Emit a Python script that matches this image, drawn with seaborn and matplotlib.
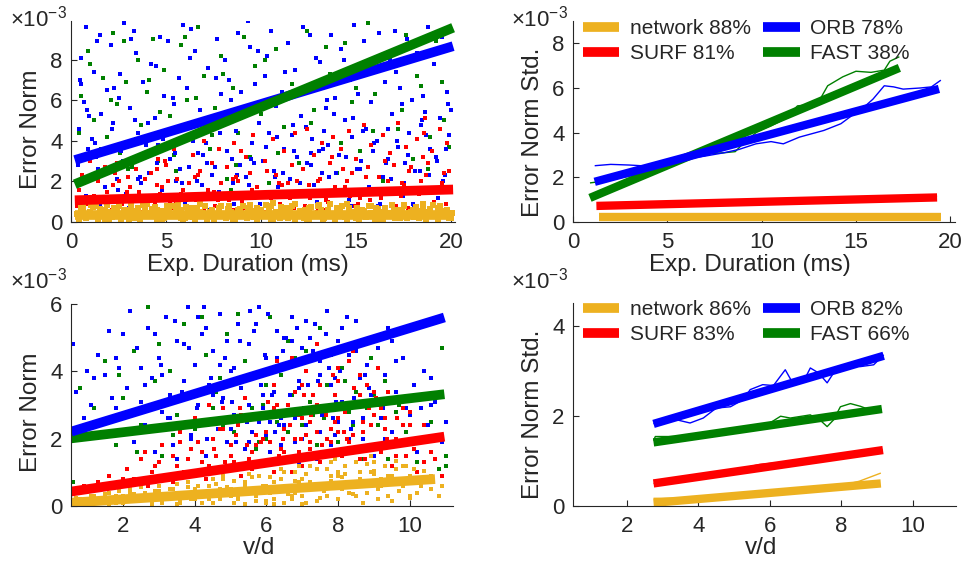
import numpy as np
import pandas as pd
import matplotlib
matplotlib.use("Agg")
import matplotlib.pyplot as plt
from matplotlib.lines import Line2D
import seaborn as sns

# ---------------- data (y values in units of 1e-3) ----------------
COLORS = {"network": "#EDB120", "SURF": "#FF0000", "ORB": "#0000FF", "FAST": "#008000"}

# Top-left scatter: Exp. Duration (ms) vs Error Norm
tl_orb_x = [0.4,0.5,0.6,0.7,0.8,0.9,0.5,0.8, 1.1,1.2,1.4,1.5,1.6,1.8,1.9,1.3, 2.1,2.2,2.4,2.5,2.7,2.8,2.9,2.6,
            3.1,3.2,3.4,3.5,3.7,3.8,3.9,3.3, 4.1,4.2,4.4,4.6,4.7,4.8,4.9,4.5, 5.1,5.2,5.4,5.5,5.7,5.8,5.9,5.3,
            6.1,6.2,6.4,6.5,6.7,6.8,6.9,6.3, 7.1,7.2,7.4,7.5,7.7,7.8,7.9,7.3, 8.1,8.2,8.4,8.5,8.7,8.8,8.9,8.3,
            9.1,9.2,9.4,9.5,9.7,9.8,9.9,9.3, 10.1,10.2,10.4,10.5,10.7,10.8,10.9,10.3, 11.1,11.2,11.4,11.5,11.7,11.8,11.9,11.3,
            12.1,12.2,12.4,12.5,12.7,12.8,12.9,12.6, 13.1,13.2,13.4,13.5,13.7,13.8,13.9,13.3, 14.1,14.2,14.4,14.5,14.7,14.8,14.9,14.6,
            15.1,15.2,15.4,15.5,15.7,15.8,15.9,15.3, 16.1,16.2,16.4,16.5,16.7,16.8,16.9,16.6, 17.1,17.2,17.4,17.5,17.7,17.8,17.9,17.3,
            18.1,18.2,18.4,18.5,18.7,18.8,18.9,18.6, 19.1,19.2,19.4,19.5,19.7,19.8,19.9,19.3,
            0.35,0.65,0.95,1.25,1.55,1.85,2.15,2.45,2.75,3.05, 3.35,3.65,3.95,4.25,4.55,4.85,5.15,5.45,5.75,6.05,
            6.35,6.65,6.95,7.25,7.55,7.85,8.15,8.45,8.75,9.05, 9.35,9.65,9.95,10.25,10.55,10.85,11.15,11.45,11.75,12.05,
            12.35,12.65,12.95,13.25,13.55,13.85,14.15,14.45,14.75,15.05, 15.35,15.65,15.95,16.25,16.55,16.85,17.15,17.45,17.75,18.05,
            18.35,18.65,18.95,19.25,19.55,19.85,
            0.45,0.85,1.35,1.75,2.25,2.65,3.15,3.55,4.05,4.45, 4.95,5.35,5.85,6.25,6.75,7.15,7.65,8.05,8.55,8.95,
            9.45,9.85,10.35,10.75,11.25,11.65,12.15,12.55,13.05,13.45, 13.95,14.35,14.85,15.25,15.75,16.15,16.65,17.05,17.55,17.95,
            18.45,18.85,19.35,19.75,2.0,6.0,10.0,14.0,18.0,20.0]
tl_orb_y = [4.6,8.1,2.2,5.9,1.3,3.6,6.8,9.6, 4.1,7.4,2.6,9.2,5.3,1.7,6.5,3.2, 8.7,4.9,2.1,6.1,3.7,9.8,1.4,7.3,
            5.6,2.9,8.3,4.4,1.9,6.9,3.3,9.4, 2.4,7.8,5.1,3.8,9.1,1.6,6.2,4.3, 8.9,3.1,5.8,2.0,7.1,4.6,9.7,1.2,
            6.6,2.7,4.0,8.4,3.4,5.5,1.8,9.5, 3.9,7.6,2.3,5.0,9.0,1.5,6.3,4.8, 8.0,3.5,6.0,1.9,4.5,9.3,2.8,7.0,
            5.4,2.2,8.6,3.9,6.8,1.4,4.9,9.9, 3.0,7.2,4.4,9.4,2.5,5.7,1.7,8.2, 6.4,3.6,8.8,2.1,4.8,7.5,3.2,1.3,
            5.2,9.6,2.9,6.7,4.1,1.8,8.1,3.4, 7.9,2.4,5.6,3.8,9.2,1.5,6.1,4.5, 3.3,8.5,5.0,2.0,7.0,4.2,9.7,1.1,
            6.3,2.6,8.9,4.6,1.7,5.9,3.5,7.6, 4.0,9.3,2.2,6.9,3.1,8.0,5.3,1.4, 7.4,3.7,5.8,1.9,9.0,4.4,2.7,6.6,
            2.5,8.3,4.8,6.2,1.6,9.6,3.6,5.4, 7.8,3.2,5.1,9.1,2.3,6.4,4.3,1.2,
            2.8,1.1,5.2,3.9,0.9,2.5,4.6,1.6,3.0,0.7, 5.0,2.2,3.8,1.3,2.9,4.1,0.8,3.4,2.6,1.1,
            4.9,2.0,3.3,0.6,2.7,4.4,1.2,3.1,2.3,5.6, 1.8,2.9,0.9,3.7,1.5,4.2,2.4,0.7,3.5,1.9,
            4.7,2.8,1.0,3.6,2.2,5.3,1.4,3.2,0.8,2.6, 4.5,1.7,3.9,0.9,2.9,2.1,4.0,1.3,3.3,0.7,
            2.5,4.3,1.6,3.0,2.0,5.8,
            7.0,5.5,8.9,1.0,6.6,3.5,9.0,2.1,4.9,7.7, 3.6,6.1,1.9,8.1,4.4,2.9,7.1,5.3,0.9,6.4,
            3.1,8.4,5.9,2.2,7.4,4.3,1.4,9.2,3.5,6.0, 2.4,8.0,5.1,3.0,7.9,0.8,4.6,9.4,2.9,6.0,
            5.0,2.3,8.4,3.6,1.2,0.9,0.6,0.7,0.9,5.5]
tl_fast_x = [0.5,0.7,0.9,1.2,1.4,1.7,1.9,2.2,2.4,2.6,2.9,3.2,3.5,3.7,4.0,4.3,4.6,4.9,5.2,5.5,5.8,6.1,6.4,6.7,7.0,
             7.3,7.6,7.9,8.2,8.5,8.8,9.1,9.4,9.7,10.0,10.4,10.8,11.2,11.6,12.0,12.4,12.8,13.2,13.6,14.0,14.4,14.8,
             15.2,15.6,16.0,16.4,16.8,17.2,17.6,18.0,18.4,18.8,19.2,19.6,19.9,
             0.4,1.0,1.6,2.1,2.8,3.4,4.1,4.7,5.4,6.0, 6.6,7.4,8.0,8.7,9.3,10.2,10.9,11.8,12.6,13.4,
             14.2,15.0,15.9,16.7,17.4,18.2,18.9,19.5,3.0,8.4]
tl_fast_y = [6.2,3.1,8.4,5.0,2.3,7.1,4.2,9.3,5.8,3.4,6.9,2.7,8.0,4.8,6.4,9.0,3.0,7.5,5.2,2.5,8.7,6.0,4.0,9.6,7.2,
             3.6,5.6,8.2,2.1,6.6,4.4,9.1,3.2,7.7,5.3,1.9,8.5,4.7,6.8,2.9,9.4,5.5,3.9,7.3,2.4,8.8,5.9,
             3.5,9.8,6.3,2.0,7.9,4.6,9.2,3.1,6.7,2.6,8.9,5.0,3.7,
             4.4,7.8,3.6,6.0,8.9,4.1,7.0,5.4,3.3,9.1, 6.1,4.3,7.3,2.8,5.7,8.0,3.4,6.2,4.9,8.6,
             3.9,6.6,4.5,8.3,5.5,7.2,4.2,6.9,2.6,1.6]
tl_surf_x = [0.4,0.6,0.8,1.0,1.2,1.4,1.6,1.8,0.5,1.5, 2.2,2.4,2.6,2.8,3.0,3.2,3.4,3.6,3.8,2.5,
             4.2,4.4,4.6,4.8,5.0,5.2,5.4,5.6,5.8,4.5, 6.2,6.4,6.6,6.8,7.0,7.2,7.4,7.6,7.8,6.5,
             8.2,8.4,8.6,8.8,9.0,9.2,9.4,9.6,9.8,8.5, 10.2,10.4,10.6,10.8,11.0,11.2,11.4,11.6,11.8,10.5,
             12.2,12.4,12.6,12.8,13.0,13.2,13.4,13.6,13.8,12.5, 14.2,14.4,14.6,14.8,15.0,15.2,15.4,15.6,15.8,14.5,
             16.2,16.4,16.6,16.8,17.0,17.2,17.4,17.6,17.8,16.5, 18.2,18.4,18.6,18.8,19.0,19.2,19.4,19.6,19.8,18.5,
             0.3,0.7,1.1,1.5,1.9,2.3,2.7,3.1,3.5,3.9, 4.3,4.7,5.1,5.5,5.9,6.3,6.7,7.1,7.5,7.9,
             8.3,8.7,9.1,9.5,9.9,10.3,10.7,11.1,11.5,11.9, 12.3,12.7,13.1,13.5,13.9,14.3,14.7,15.1,15.5,15.9,
             16.3,16.7,17.1,17.5,17.9,18.3,18.7,19.1,19.5,19.9, 1.0,3.0,5.0,7.0,9.0,11.0,13.0,15.0,17.0,19.0,
             0.55,1.35,2.15,2.95,3.75,4.55,5.35,6.15,6.95,7.75, 8.55,9.35,10.15,10.95,11.75,12.55,13.35,14.15,14.95,15.75,
             16.55,17.35,18.15,18.95,19.75,1.75,3.35,5.75,7.35,9.75, 11.35,12.95,14.55,16.15,17.75,19.35,4.95,8.95,13.75,18.55]
tl_surf_y = [1.6,2.3,0.9,3.0,1.3,2.0,0.7,2.7,1.1,3.5, 1.8,2.9,1.2,3.8,2.2,0.8,2.6,1.5,3.3,2.0,
             2.4,1.0,3.1,1.7,2.8,0.9,3.6,2.1,1.4,2.6, 1.9,3.3,1.1,2.5,4.0,1.6,2.9,0.8,3.6,2.2,
             2.7,1.3,3.9,2.0,1.0,3.2,2.4,4.3,1.7,2.1, 3.0,1.5,4.1,2.3,0.9,3.5,1.9,2.8,4.4,1.2,
             2.6,4.6,1.4,3.3,2.0,3.9,1.1,2.9,4.2,1.8, 3.6,1.7,4.5,2.4,3.1,1.2,4.8,2.7,3.8,2.0,
             2.2,4.3,1.5,3.4,2.8,4.9,1.9,3.7,2.5,3.0, 4.1,2.0,5.1,2.9,3.5,1.6,4.6,2.4,3.9,3.2,
             0.8,1.9,1.2,0.6,1.5,2.4,0.9,1.7,1.1,2.1, 0.7,1.4,2.0,0.9,1.6,1.2,2.3,0.8,1.5,1.9,
             1.1,2.2,0.7,1.6,1.3,2.5,0.9,1.8,1.2,2.0, 0.8,1.5,2.1,1.0,1.7,2.6,1.3,0.9,2.2,1.6,
             1.2,2.0,0.8,1.8,2.7,1.4,2.3,1.0,1.9,2.5, 0.5,0.6,0.5,0.6,0.5,0.6,0.7,0.6,0.7,0.8,
             0.4,1.2,0.6,1.5,0.5,1.8,0.7,1.3,0.5,1.1, 0.6,1.4,0.5,1.9,0.7,1.2,0.6,1.5,0.8,1.1,
             0.6,1.3,0.7,1.6,0.9,0.3,0.4,0.4,0.3,0.5, 0.4,0.5,0.6,0.4,0.7,0.6,3.0,3.5,3.2,4.4]
tl_net_x = [0.3,0.5,0.8,1.0,1.3,1.5,1.8,2.0,2.3,2.5,2.8,3.0,3.3,3.5,3.8,4.0,4.3,4.5,4.8,5.0,5.3,5.5,5.8,6.0,
            6.3,6.5,6.8,7.0,7.3,7.5,7.8,8.0,8.3,8.5,8.8,9.0,9.3,9.5,9.8,10.0,10.3,10.5,10.8,11.0,11.3,11.5,11.8,
            12.0,12.3,12.5,12.8,13.0,13.3,13.5,13.8,14.0,14.3,14.5,14.8,15.0,15.3,15.5,15.8,16.0,16.3,16.5,16.8,
            17.0,17.3,17.5,17.8,18.0,18.3,18.5,18.8,19.0,19.3,19.5,19.8,20.0,
            0.4,0.65,0.9,1.15,1.4,1.65,1.9,2.15,2.4,2.65, 2.9,3.15,3.4,3.65,3.9,4.15,4.4,4.65,4.9,5.15,
            5.4,5.65,5.9,6.15,6.4,6.65,6.9,7.15,7.4,7.65, 7.9,8.15,8.4,8.65,8.9,9.15,9.4,9.65,9.9,10.15,
            10.4,10.65,10.9,11.15,11.4,11.65,11.9,12.15,12.4,12.65, 12.9,13.15,13.4,13.65,13.9,14.15,14.4,14.65,14.9,15.15,
            15.4,15.65,15.9,16.15,16.4,16.65,16.9,17.15,17.4,17.65, 17.9,18.15,18.4,18.65,18.9,19.15,19.4,19.65,19.9,20.05,
            0.52,0.78,1.03,1.28,1.53,1.78,2.03,2.28,2.53,2.78, 3.03,3.28,3.53,3.78,4.03,4.28,4.53,4.78,5.03,5.28,
            5.53,5.78,6.03,6.28,6.53,6.78,7.03,7.28,7.53,7.78, 8.03,8.28,8.53,8.78,9.03,9.28,9.53,9.78,10.03,10.28,
            10.53,10.78,11.03,11.28,11.53,11.78,12.03,12.28,12.53,12.78, 13.03,13.28,13.53,13.78,14.03,14.28,14.53,14.78,15.03,15.28,
            15.53,15.78,16.03,16.28,16.53,16.78,17.03,17.28,17.53,17.78, 18.03,18.28,18.53,18.78,19.03,19.28,19.53,19.78,0.62,10.62]
tl_net_y = [0.4,0.7,0.2,0.5,0.8,0.3,0.6,0.1,0.5,0.8,0.3,0.6,0.2,0.7,0.4,0.9,0.3,0.6,0.1,0.5,0.8,0.3,0.6,0.2,
            0.7,0.4,0.9,0.3,0.5,0.1,0.7,0.4,0.8,0.2,0.6,0.3,0.7,0.5,0.1,0.6,0.3,0.8,0.4,0.2,0.7,0.5,0.9,
            0.3,0.6,0.1,0.4,0.8,0.2,0.6,0.4,0.7,0.3,0.9,0.5,0.2,0.6,0.4,0.8,0.1,0.5,0.7,0.3,
            0.6,0.2,0.8,0.4,0.6,0.2,0.9,0.5,0.3,0.7,0.4,0.6,0.2,
            0.15,0.55,0.35,0.75,0.1,0.45,0.85,0.25,0.65,0.05, 0.4,0.8,0.5,0.15,0.6,0.3,0.75,0.45,0.2,0.65,
            0.35,0.9,0.1,0.55,0.25,0.7,0.45,0.15,0.6,0.35, 0.8,0.2,0.5,0.05,0.65,0.4,0.85,0.25,0.55,0.3,
            0.7,0.1,0.45,0.6,0.2,0.8,0.35,0.55,0.15,0.75, 0.3,0.6,0.45,0.9,0.1,0.5,0.25,0.7,0.4,0.15,
            0.55,0.8,0.3,0.65,0.05,0.45,0.85,0.35,0.6,0.2, 0.5,0.75,0.4,0.1,0.65,0.3,0.8,0.55,0.2,0.45,
            0.6,0.2,0.85,0.4,0.65,0.15,0.5,0.7,0.3,0.6, 0.1,0.55,0.3,0.85,0.45,0.65,0.15,0.55,0.8,0.35,
            0.6,0.2,0.75,0.45,0.1,0.5,0.8,0.3,0.05,0.6, 0.35,0.65,0.15,0.45,0.8,0.2,0.55,0.7,0.3,0.85,
            0.15,0.5,0.75,0.3,0.6,0.1,0.55,0.2,0.7,0.4, 0.85,0.15,0.6,0.35,0.5,0.8,0.1,0.45,0.7,0.55,
            0.25,0.45,0.7,0.15,0.5,0.35,0.2,0.6,0.85,0.45, 0.25,0.55,0.7,0.35,0.85,0.15,0.55,0.3,0.8,0.95]
# top-left fit lines (end points)
tl_fit_x = [0.2, 20.1]
tl_fit = {"network": [0.35, 0.35], "SURF": [1.07, 1.60], "ORB": [3.05, 8.66], "FAST": [1.86, 9.57]}

# Top-right: Error Norm Std. vs Exp. Duration
tr_orb_x = [1.15,2.0,3.0,4.0,5.0,6.2,7.0,8.0,8.8,9.7,10.5,11.15,12.0,13.3,14.2,15.0,15.5,15.9,16.5,17.0,17.5,18.4,19.0,19.5]
tr_orb_y = [2.52,2.58,2.55,2.50,2.60,2.85,2.95,3.10,3.25,3.50,3.60,3.50,3.80,4.10,4.40,4.90,5.20,5.50,6.10,6.05,5.95,6.00,6.05,6.35]
tr_fast_x = [0.9,1.8,2.65,3.3,3.9,4.5,5.1,5.6,6.2,7.0,8.0,8.6,9.0,9.7,10.5,11.2,11.9,12.5,13.1,13.5,14.3,15.0,15.8,16.5,16.8,17.3]
tr_fast_y = [1.75,1.85,2.00,2.10,2.20,2.30,2.50,2.70,2.90,3.05,3.10,3.15,3.50,4.00,4.30,4.60,5.20,5.25,5.50,6.10,6.50,6.75,6.70,6.80,7.20,7.40]
tr_surf_x = [1.3, 5.0, 10.0, 15.0, 19.3]
tr_surf_y = [0.74, 0.84, 0.92, 1.02, 1.16]
tr_net_x = [1.4, 7.0, 13.0, 19.5]
tr_net_y = [0.24, 0.22, 0.23, 0.22]
tr_fit = {"network": ([1.4, 19.5], [0.22, 0.22]),
          "SURF": ([1.24, 19.3], [0.72, 1.10]),
          "FAST": ([0.9, 17.3], [1.08, 6.90]),
          "ORB": ([1.15, 19.4], [1.80, 5.96])}
tr_labels = {"network": "network 88%", "SURF": "SURF 81%", "ORB": "ORB 78%", "FAST": "FAST 38%"}

# Bottom-left scatter: v/d vs Error Norm
bl_orb_x = [0.6,0.7,0.9,1.1,1.3,1.4,1.5,1.6,1.8,1.9, 2.1,2.2,2.3,2.4,2.5,2.6,2.7,2.8,2.9,3.0,
            3.1,3.2,3.3,3.4,3.5,3.6,3.7,3.8,3.9,4.0, 4.1,4.2,4.3,4.4,4.5,4.6,4.7,4.8,4.9,5.0,
            5.1,5.2,5.3,5.4,5.5,5.6,5.7,5.8,5.9,6.0, 6.1,6.2,6.3,6.4,6.5,6.6,6.7,6.8,6.9,7.0,
            7.1,7.2,7.3,7.4,7.5,7.6,7.7,7.8,7.9,8.0, 8.1,8.2,8.3,8.4,8.5,8.6,8.7,8.8,8.9,9.0,
            9.1,9.2,9.3,9.4,9.5,9.6,9.7,9.8,9.9,10.1, 10.2,10.4,10.5,10.7,10.9,
            4.5,5.0,5.5,6.0,6.5,7.0,7.5,8.0,6.2,6.8,5.8,7.3,4.8,7.8,6.4,
            3.05,3.25,3.45,3.65,3.85,4.05,4.25,4.45,4.65,4.85, 5.05,5.25,5.45,5.65,5.85,6.05,6.25,6.45,6.65,6.85,
            7.05,7.25,7.45,7.65,7.85,8.05,8.25,8.45,8.65,8.85, 5.15,5.35,5.55,5.75,5.95,6.15,6.35,6.55,6.75,6.95,
            7.15,7.35,7.55,7.75,7.95,4.35,4.75,8.35,8.75,9.25, 1.0,1.7,2.0,2.6,9.6,10.0,10.6,11.0,3.5,6.9,
            2.5,2.9,3.3,3.7,4.1,4.5,4.9,5.3,5.7,6.1, 6.5,6.9,7.3,7.7,8.1,8.5,8.9,9.3,3.1,3.9,
            4.7,5.5,6.3,7.1,7.9,8.7,9.5,10.3,2.8,4.3, 5.1,5.9,6.7,7.5,8.3,9.1,1.2,1.8,10.6,9.9]
bl_orb_y = [4.8,3.4,2.6,3.0,4.5,2.1,3.9,5.2,2.9,4.1, 3.5,5.8,1.9,4.7,3.1,2.4,5.3,3.8,1.6,4.4,
            2.8,5.6,3.3,1.8,4.9,2.3,3.7,5.9,2.0,4.2, 3.0,5.1,1.5,3.6,4.6,2.5,5.7,3.2,1.9,4.0,
            2.7,5.4,3.5,1.7,4.8,2.2,3.9,5.9,2.9,4.4, 1.6,3.4,5.2,2.6,4.1,3.0,5.6,1.9,3.7,4.7,
            2.4,5.0,3.3,1.4,4.3,2.8,5.8,3.6,2.1,4.9, 3.1,1.7,4.5,2.5,5.5,3.8,2.0,4.2,3.0,1.5,
            4.7,2.6,3.9,5.3,2.2,3.4,1.8,4.4,2.9,3.6, 1.6,4.0,2.4,3.1,1.9,
            2.0,2.3,1.9,2.1,2.4,2.0,2.2,2.5,2.8,2.6,2.5,2.9,2.6,1.8,1.8,
            4.2,2.6,5.5,3.4,4.7,2.9,5.9,3.8,2.3,4.4, 3.1,4.9,2.5,5.2,3.6,5.7,2.2,4.6,3.3,5.3,
            2.9,4.4,3.7,5.1,2.6,4.0,5.6,3.2,4.8,3.5, 1.9,3.8,5.8,2.7,4.5,3.3,2.4,5.0,4.2,2.8,
            3.6,5.4,2.7,4.1,3.1,2.0,3.1,2.3,3.9,2.9, 4.0,3.2,5.1,3.6,4.3,2.7,3.8,2.5,1.4,1.3,
            4.1,5.1,2.6,4.8,5.6,3.3,4.9,3.8,5.4,2.5, 5.0,3.5,4.6,2.9,5.3,4.6,3.3,2.0,3.9,2.1,
            4.2,3.0,4.4,5.5,3.8,2.6,4.9,2.9,2.3,5.3, 4.1,3.3,4.9,3.9,2.0,3.0,3.8,4.4,3.0,5.2]
bl_fast_x = [0.6,0.8,1.2,1.5,1.8,2.0,2.3,2.5,2.7,2.9, 3.1,3.3,3.5,3.7,3.9,4.1,4.3,4.5,4.7,4.9,
             5.1,5.3,5.5,5.7,5.9,6.1,6.3,6.5,6.7,6.9, 7.1,7.3,7.5,7.7,7.9,8.1,8.3,8.5,8.7,8.9,
             9.1,9.3,9.5,9.7,9.9,10.2,10.5,10.8,11.0,10.9, 4.0,5.0,6.0,7.0,8.0,6.6,5.6,7.6,
             1.0,1.9,2.4,3.0,3.6,4.2,4.8,5.4,6.0,6.6, 7.2,7.8,8.4,9.0,9.6,10.1,10.6,3.4,5.2,6.4,
             7.4,8.2,8.8,4.6,5.8,6.8,2.2,9.4,10.3,11.0]
bl_fast_y = [0.7,3.5,2.9,4.3,1.8,3.2,4.6,2.4,5.9,3.7, 1.5,4.0,2.7,5.4,3.3,1.9,4.5,2.9,3.8,5.1,
             2.2,3.5,4.8,1.7,3.0,5.6,2.5,4.2,3.3,1.6, 4.6,2.7,5.3,3.6,2.1,4.1,2.8,3.4,1.4,4.4,
             2.4,3.7,1.9,3.0,2.2,1.3,3.3,1.1,1.2,4.7, 2.3,2.6,2.0,2.4,1.9,2.2,2.9,2.6,
             2.4,3.9,1.6,4.8,3.2,5.6,2.4,4.3,3.6,4.9, 3.1,4.5,2.4,3.3,2.8,1.7,2.5,2.1,5.7,3.9,
             1.8,3.7,2.9,3.4,1.9,4.4,2.7,1.4,2.0,1.5]
bl_surf_x = [0.9,1.3,1.6,1.9,2.1,2.3,2.5,2.7,2.9,3.1, 3.2,3.4,3.6,3.7,3.9,4.0,4.2,4.3,4.5,4.6,
             4.8,4.9,5.0,5.2,5.3,5.4,5.6,5.7,5.8,6.0, 6.1,6.2,6.3,6.5,6.6,6.7,6.8,7.0,7.1,7.2,
             7.3,7.4,7.5,7.6,7.7,7.8,7.9,8.0,8.1,8.2, 8.3,8.4,8.5,8.6,8.7,8.8,8.9,9.0,9.1,9.2,
             9.3,9.4,9.5,9.6,9.8,9.9,10.0,10.2,10.3,10.5, 10.7,10.9,5.5,6.4,6.9,7.7,8.5,6.0,7.2,8.0,
             4.1,4.4,4.7,5.0,5.3,5.6,5.9,6.2,6.5,6.8, 7.1,7.4,7.7,8.0,8.3,8.6,8.9,9.2,9.5,9.8,
             4.25,4.55,4.85,5.15,5.45,5.75,6.05,6.35,6.65,6.95, 7.25,7.55,7.85,8.15,8.45,8.75,9.05,9.35,9.65,3.5,
             2.8,3.3,3.8,10.1,10.4,10.6,6.3,7.0,7.9,8.4,
             5.1,5.4,5.7,6.0,6.3,6.6,6.9,7.2,7.5,7.8, 8.1,8.4,8.7,9.0,9.3,5.25,5.85,6.45,7.05,7.65,
             8.25,8.85,3.0,3.6,4.2,4.8,9.6,10.0,10.4,10.8, 2.0,2.6,3.4,4.4,6.7,7.4,8.0,8.6,7.0,6.2]
bl_surf_y = [0.6,0.7,0.9,0.5,1.1,0.8,1.4,0.6,1.2,1.8, 0.9,1.5,2.2,1.0,1.7,2.6,1.3,0.8,2.0,1.5,
             2.9,1.1,1.8,2.4,0.9,3.2,1.6,2.1,1.2,2.7, 1.9,3.6,1.4,2.3,3.0,1.0,2.0,2.6,4.0,1.7,
             3.3,2.2,1.3,2.9,4.6,1.9,2.5,3.7,1.5,2.8, 4.3,2.1,3.1,1.4,2.5,3.6,1.8,2.7,4.1,1.6,
             2.3,3.4,1.2,2.0,2.9,1.5,2.4,1.0,1.9,0.7, 1.4,0.9,1.4,1.7,1.6,2.0,1.7,1.3,2.5,2.2,
             1.9,1.2,2.3,1.5,2.7,1.1,2.0,2.9,1.6,3.4, 2.1,3.0,1.6,2.6,1.9,3.3,2.4,2.9,1.8,2.4,
             1.0,1.7,1.3,2.1,1.8,2.6,3.1,1.5,2.4,2.0, 2.7,1.8,3.9,2.2,3.5,1.4,3.2,2.0,2.6,1.2,
             1.0,0.9,1.4,1.7,2.4,1.6,4.3,3.6,3.3,4.6,
             1.3,2.6,1.8,2.2,3.0,1.4,2.7,1.9,3.6,2.3, 3.0,1.7,2.2,3.4,2.6,2.9,1.9,2.0,3.3,2.7,
             2.0,2.9,1.3,1.9,1.6,2.3,1.5,2.8,1.3,2.1, 0.8,1.6,0.7,3.0,4.4,4.8,4.1,3.9,1.2,1.0]
bl_net_x = [0.6,0.8,1.0,1.2,1.4,1.6,1.8,2.0,2.2,2.4, 2.6,2.8,3.0,3.2,3.4,3.6,3.8,4.0,4.2,4.4,
            4.6,4.8,5.0,5.2,5.4,5.6,5.8,6.0,6.2,6.4, 6.6,6.8,7.0,7.2,7.4,7.6,7.8,8.0,8.2,8.4,
            8.6,8.8,9.0,9.2,9.4,9.6,9.8,10.0,10.2,10.5, 10.8,3.1,4.1,5.1,6.1,7.1,8.1,9.1,5.7,6.7,
            7.7,8.7,4.7,2.3,3.7,9.5,7.9,8.9,6.9,9.9,
            0.7,0.9,1.1,1.3,1.5,1.7,1.9,2.1,2.3,2.5, 2.7,2.9,3.1,3.3,3.5,3.7,3.9,4.1,4.3,4.5,
            4.7,4.9,5.1,5.3,5.5,5.7,5.9,6.1,6.3,6.5, 6.7,6.9,7.1,7.3,7.5,7.7,7.9,8.1,8.3,8.5,
            8.7,8.9,9.1,9.3,9.5,9.7,9.9,10.1,10.3,10.6, 3.5,4.5,5.5,6.5,7.5,8.5,9.5,6.0,7.0,8.0,
            5.0,4.0,3.0,2.0,9.0,8.8,7.8,6.8,10.0,10.9,
            1.0,1.4,1.8,2.2,2.6,3.0,3.4,3.8,4.2,4.6, 5.0,5.4,5.8,6.2,6.6,7.0,7.4,7.8,8.2,8.6,
            9.0,9.4,9.8,10.2,10.6,1.6,2.8,3.6,4.4,5.2, 6.0,6.8,7.6,8.4,9.2,10.0,4.8,5.6,6.4,7.2,
            8.0,8.8,9.6,10.4,2.4,3.2,4.0,5.4,6.2,7.4]
bl_net_y = [0.1,0.2,0.1,0.3,0.2,0.4,0.1,0.3,0.5,0.2, 0.4,0.1,0.6,0.3,0.5,0.2,0.7,0.4,0.1,0.6,
            0.3,0.8,0.5,0.2,0.7,0.4,0.9,0.6,0.2,0.8, 0.5,1.0,0.3,0.7,1.1,0.5,0.9,0.2,1.2,0.6,
            1.0,0.4,1.3,0.8,0.3,1.1,0.6,0.9,0.4,0.7, 0.3,0.1,0.3,0.1,0.4,0.1,0.5,0.2,0.3,0.2,
            0.3,0.1,0.5,0.2,0.4,0.7,1.4,1.5,1.2,1.2,
            0.25,0.05,0.3,0.1,0.35,0.2,0.45,0.15,0.35,0.55, 0.25,0.45,0.15,0.5,0.65,0.35,0.2,0.6,0.4,0.8,
            0.2,0.55,0.75,0.4,0.95,0.15,0.6,0.85,0.45,1.0, 0.3,0.7,0.95,0.5,0.25,1.1,0.6,0.85,0.4,1.3,
            0.7,1.0,0.5,1.2,0.9,0.45,0.8,1.1,0.6,0.5, 0.05,0.1,0.5,0.1,0.6,0.3,0.15,0.1,0.05,0.9,
            0.3,0.2,0.35,0.1,0.95,1.25,1.3,0.75,0.25,0.6,
            0.15,0.25,0.3,0.4,0.2,0.45,0.3,0.55,0.35,0.65, 0.4,0.6,0.5,0.7,0.35,0.8,0.6,0.75,0.95,0.8,
            1.05,0.9,1.2,0.75,0.9,0.05,0.05,0.1,0.2,0.3, 0.15,0.4,0.45,0.35,0.6,0.3,0.9,0.85,1.1,1.2,
            1.0,0.6,1.35,1.05,0.3,0.2,0.5,0.05,0.05,0.15]
bl_fit_x = [0.56, 10.96]
bl_fit = {"network": ([0.56, 10.7], [0.10, 0.80]), "SURF": (bl_fit_x, [0.43, 2.06]),
          "FAST": (bl_fit_x, [2.01, 3.32]), "ORB": (bl_fit_x, [2.21, 5.60])}

# Bottom-right: Error Norm Std. vs v/d
br_orb_x = [2.75,2.84,3.4,3.77,4.14,4.5,4.9,5.26,5.45,5.8,6.1,6.43,6.6,6.94,7.13,7.36,7.6,7.78,8.25,8.53,8.9,9.18]
br_orb_y = [1.82,1.87,1.91,1.84,1.95,2.17,2.20,2.36,2.58,2.69,2.67,3.02,2.78,2.76,3.06,2.95,2.73,2.95,3.13,3.09,3.13,3.35]
br_fast_x = [2.75,2.8,3.4,4.0,4.7,4.9,5.5,6.0,6.3,6.57,7.13,7.45,7.6,7.78,7.97,8.25,8.53,8.8,9.13]
br_fast_y = [1.45,1.54,1.54,1.56,1.58,1.65,1.74,1.84,1.99,1.95,2.02,1.87,1.76,1.91,2.20,2.27,2.21,2.13,2.13]
br_surf_x = [2.75, 4.5, 5.7, 7.5, 9.16]
br_surf_y = [0.50, 0.70, 0.92, 1.06, 1.24]
br_net_x = [2.75, 4.0, 6.0, 7.5, 8.0, 8.5, 9.1]
br_net_y = [0.17, 0.18, 0.28, 0.38, 0.45, 0.55, 0.73]
br_fit = {"network": ([2.75, 9.1], [0.07, 0.50]), "SURF": ([2.75, 9.16], [0.50, 1.24]),
          "FAST": ([2.75, 9.13], [1.41, 2.15]), "ORB": ([2.75, 9.18], [1.82, 3.33])}
br_labels = {"network": "network 86%", "SURF": "SURF 83%", "ORB": "ORB 82%", "FAST": "FAST 66%"}

# ---------------- styling ----------------
sns.set_style("white")
plt.rcParams["font.family"] = ["Liberation Sans", "DejaVu Sans"]
plt.rcParams["mathtext.fontset"] = "custom"
plt.rcParams["mathtext.rm"] = "Liberation Sans"
plt.rcParams["mathtext.it"] = "Liberation Sans"
TXT = "#262626"
TICK_FS = 16
LAB_FS = 17.5
LEG_FS = 15

W, H = 967, 564
fig = plt.figure(figsize=(W / 100, H / 100), dpi=100)

def px_axes(l, t, r, b):
    return fig.add_axes([l / W, 1 - b / H, (r - l) / W, (b - t) / H])

ax_tl = px_axes(71, 21, 455, 222)
ax_tr = px_axes(573, 21, 955, 222)
ax_bl = px_axes(71, 304, 453, 506)
ax_br = px_axes(573, 303, 956, 506)

def style(ax, xlim, ylim, xt, yt, xlabel, ylabel, xl_pos, yl_pos, exp_pos):
    ax.set_xlim(*xlim)
    ax.set_ylim(*ylim)
    ax.set_xticks(xt)
    ax.set_yticks(yt)
    ax.set_xticklabels([str(v) for v in xt])
    ax.set_yticklabels([str(v) for v in yt])
    for s in ["top", "right"]:
        ax.spines[s].set_visible(False)
    for s in ["left", "bottom"]:
        ax.spines[s].set_color(TXT)
        ax.spines[s].set_linewidth(0.8)
        ax.spines[s].set_zorder(5)
    ax.tick_params(direction="in", length=4, width=0.8, colors=TXT, labelsize=TICK_FS,
                   labelcolor=TXT, left=True, bottom=True)
    ax.tick_params(axis="x", pad=7)
    ax.tick_params(axis="y", pad=6)
    ax.set_xlabel(xlabel, fontsize=LAB_FS, color=TXT)
    ax.set_ylabel(ylabel, fontsize=LAB_FS, color=TXT)
    ax.xaxis.set_label_coords(xl_pos[0] / W, 1 - xl_pos[1] / H, transform=fig.transFigure)
    ax.yaxis.set_label_coords(yl_pos[0] / W, 1 - yl_pos[1] / H, transform=fig.transFigure)
    ax.xaxis.label.set_verticalalignment("center")
    ax.yaxis.label.set_verticalalignment("center")
    ax.yaxis.label.set_horizontalalignment("center")
    fig.text(exp_pos[0] / W, 1 - exp_pos[1] / H, r"$\times10^{-3}$", ha="right", va="baseline",
             fontsize=TICK_FS, color=TXT)
    ax.set_facecolor("white")

def scat(ax, x, y, key, s=7):
    df = pd.DataFrame({"x": x, "y": y})
    sns.scatterplot(data=df, x="x", y="y", color=COLORS[key], s=s, linewidth=0, marker="s",
                    ax=ax, legend=False, zorder=2)

def line(ax, x, y, key, lw):
    df = pd.DataFrame({"x": x, "y": y})
    sns.lineplot(data=df, x="x", y="y", color=COLORS[key], linewidth=lw, sort=False,
                 estimator=None, ax=ax, legend=False, zorder=3, solid_capstyle="butt")

# ---- top-left ----
scat(ax_tl, tl_fast_x, tl_fast_y, "FAST")
scat(ax_tl, tl_orb_x, tl_orb_y, "ORB")
scat(ax_tl, tl_surf_x, tl_surf_y, "SURF")
scat(ax_tl, tl_net_x, tl_net_y, "network", s=14)
for k in ["network", "SURF", "ORB", "FAST"]:
    line(ax_tl, tl_fit_x, tl_fit[k], k, 7)
style(ax_tl, (0, 20.2), (0, 9.9), [0, 5, 10, 15, 20], [0, 2, 4, 6, 8],
      "Exp. Duration (ms)", "Error Norm", (248, 265), (31, 129), (67, 27))

# ---- top-right ----
line(ax_tr, tr_net_x, tr_net_y, "network", 1)
line(ax_tr, tr_surf_x, tr_surf_y, "SURF", 1)
line(ax_tr, tr_fast_x, tr_fast_y, "FAST", 1)
line(ax_tr, tr_orb_x, tr_orb_y, "ORB", 1)
for k in ["network", "SURF", "FAST", "ORB"]:
    line(ax_tr, tr_fit[k][0], tr_fit[k][1], k, 6)
style(ax_tr, (0, 20.25), (0, 9.0), [0, 5, 10, 15, 20], [0, 2, 4, 6, 8],
      "Exp. Duration (ms)", "Error Norm Std.", (750, 265), (533, 132), (568, 27))

# ---- bottom-left ----
scat(ax_bl, bl_fast_x, bl_fast_y, "FAST")
scat(ax_bl, bl_orb_x, bl_orb_y, "ORB")
scat(ax_bl, bl_surf_x, bl_surf_y, "SURF")
scat(ax_bl, bl_net_x, bl_net_y, "network", s=12)
for k in ["network", "SURF", "FAST", "ORB"]:
    line(ax_bl, bl_fit[k][0], bl_fit[k][1], k, 7)
style(ax_bl, (0.55, 11.2), (0, 6), [2, 4, 6, 8, 10], [0, 2, 4, 6],
      "v/d", "Error Norm", (259, 548), (31, 412), (67, 288))

# ---- bottom-right ----
line(ax_br, br_net_x, br_net_y, "network", 1)
line(ax_br, br_surf_x, br_surf_y, "SURF", 1)
line(ax_br, br_fast_x, br_fast_y, "FAST", 1)
line(ax_br, br_orb_x, br_orb_y, "ORB", 1)
for k in ["network", "SURF", "FAST", "ORB"]:
    line(ax_br, br_fit[k][0], br_fit[k][1], k, 6)
style(ax_br, (0.5, 11.2), (0, 4.5), [2, 4, 6, 8, 10], [0, 2, 4],
      "v/d", "Error Norm Std.", (761, 548), (533, 414), (568, 288))

# ---- legends ----
def legend(ax, labels, top_px):
    order = ["network", "SURF", "ORB", "FAST"]
    handles = [Line2D([0], [0], color=COLORS[k], lw=7, solid_capstyle="butt") for k in order]
    ax.legend(handles, [labels[k] for k in order], ncol=2, frameon=False, loc="upper left",
              bbox_to_anchor=(583 / W, 1 - top_px / H), bbox_transform=fig.transFigure,
              borderpad=0, borderaxespad=0, handlelength=1.75, handletextpad=0.5,
              columnspacing=0.6, labelspacing=0.3, fontsize=LEG_FS, labelcolor=TXT)

legend(ax_tr, tr_labels, 19)
legend(ax_br, br_labels, 300)

fig.savefig("out.png", dpi=100, facecolor="white")
